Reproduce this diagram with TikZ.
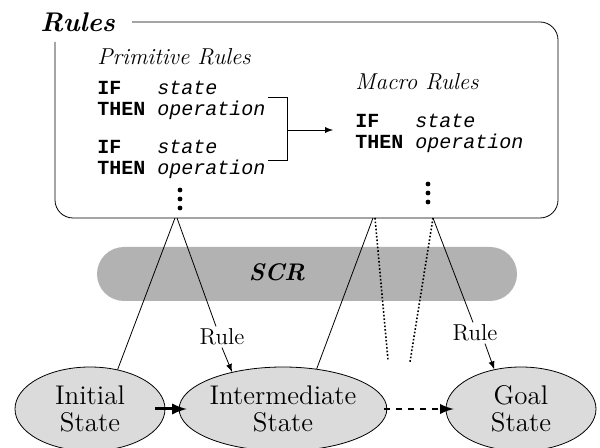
\documentclass[tikz,border=0pt]{standalone}
\usepackage{fontspec}
\setmonofont{Liberation Mono}
\usetikzlibrary{shapes.geometric}

\newcommand{\ifrule}{\textbf{IF}\ \ \ \textit{state}\\\textbf{THEN} \textit{operation}}

\begin{document}
\begin{tikzpicture}[>=latex,x=0.5pt,y=-0.5pt,
  statenode/.style={ellipse,draw,fill=gray!28,minimum width=75pt,minimum height=42pt,
    inner sep=0pt,align=center,font=\fontsize{13.5}{13.5}\selectfont},
  rulebox/.style={anchor=west,align=left,inner sep=0pt,
    font=\ttfamily\fontsize{10}{10.5}\selectfont},
  ruletitle/.style={anchor=west,inner sep=0pt,font=\itshape\fontsize{11.5}{12}\selectfont},
  rulelabel/.style={inner sep=1pt,font=\fontsize{11.5}{12}\selectfont}]
  \useasboundingbox (0,0) rectangle (600,448);
  % the rule base
  \draw[rounded corners=9pt] (132,22) -- (558,22) -- (558,218) -- (55,218) -- (55,42);
  \node[anchor=west,inner sep=0pt,font=\bfseries\itshape\fontsize{13.5}{14}\selectfont] (rules) at (40,22) {Rules};
  \node[ruletitle] (primtitle) at (97,57) {Primitive Rules};
  \node[rulebox] (prima) at (97,100) {\ifrule};
  \node[rulebox] (primb) at (97,159) {\ifrule};
  \node[ruletitle] (macrotitle) at (355,82) {Macro Rules};
  \node[rulebox] (macro) at (355,133) {\ifrule};
  \foreach \y in {190,199,208} \fill (180,\y) circle (1.2pt);
  \foreach \y in {184,193,202} \fill (428,\y) circle (1.2pt);
  \draw (268,97) -- (287,97) -- (287,160) -- (268,160);
  \coordinate (brk) at (287,130);
  \draw[->] (brk) -- ([xshift=-11pt]macro.west |- brk);
  % search band
  \node[rounded corners=13.5pt,fill=gray!60,minimum width=210pt,minimum height=27pt] (band) at (307,274) {};
  \node[font=\bfseries\itshape\fontsize{12}{12}\selectfont] (scr) at (277,272) {SCR};
  % states
  \node[statenode] (init) at (90,409) {Initial\\State};
  \node[statenode] (inter) at (283,409) {Intermediate\\State};
  \node[statenode] (goal) at (521,409) {Goal\\State};
  \node[rulelabel] (rulea) at (222,337) {Rule};
  \node[rulelabel] (ruleb) at (475,333) {Rule};
  \coordinate (pa) at (175,218);
  \coordinate (pb) at (177,218);
  \coordinate (pc) at (373,218);
  \coordinate (pd) at (375,218);
  \coordinate (pe) at (433,218);
  \coordinate (da) at (388,360);
  \coordinate (db) at (410,362);
  \draw (pa) -- (init.55);
  \draw (pb) -- ([xshift=-3pt]rulea.north);
  \draw[->] (rulea.south) -- (inter.144);
  \draw (pc) -- (inter.50);
  \draw[densely dotted,thick] (pd) -- (da);
  \draw[densely dotted,thick] (pe) -- (db);
  \draw (pe) -- ([xshift=-1pt]ruleb.north);
  \draw[->] ([xshift=5pt]ruleb.south) -- (goal.124);
  \draw[->,line width=1.5pt] ([xshift=-5pt]init.east) -- ([xshift=4pt]inter.west);
  \draw[->,line width=1.3pt,dashed] ([xshift=-1.5pt]inter.east) -- ([xshift=4pt]goal.west);
\end{tikzpicture}
\end{document}
